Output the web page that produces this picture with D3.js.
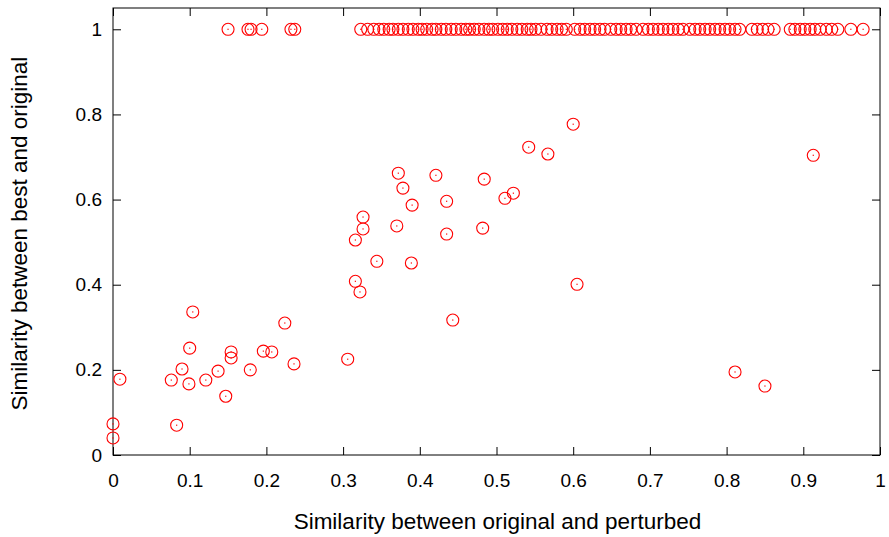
<!DOCTYPE html>
<html>
<head>
<meta charset="utf-8">
<script src="https://cdn.jsdelivr.net/npm/d3@7"></script>
<style>
  body { margin: 0; background: #fff; }
  text { font-family: "Liberation Sans", Arial, Helvetica, sans-serif; }
  .axis line { stroke: #000; stroke-width: 1px; }
  .axis .domain { display: none; }
  .axis text { font-size: 19px; fill: #000; }
</style>
</head>
<body>
<script>
// points that land on the top line (best == original)
var topX = [0.150, 0.176, 0.180, 0.194, 0.232, 0.237, 0.323, 0.332, 0.340,
    0.347, 0.353, 0.360, 0.365, 0.372, 0.378, 0.385, 0.391, 0.398, 0.403,
    0.409, 0.416, 0.421, 0.428, 0.434, 0.441, 0.447, 0.454, 0.460, 0.465,
    0.471, 0.477, 0.484, 0.490, 0.495, 0.502, 0.508, 0.514, 0.520, 0.527,
    0.533, 0.540, 0.545, 0.551, 0.558, 0.566, 0.572, 0.579, 0.585, 0.591,
    0.602, 0.609, 0.615, 0.622, 0.628, 0.635, 0.641, 0.649, 0.656, 0.662,
    0.669, 0.675, 0.682, 0.691, 0.698, 0.704, 0.711, 0.717, 0.724, 0.730,
    0.737, 0.743, 0.752, 0.759, 0.765, 0.772, 0.778, 0.785, 0.791, 0.798,
    0.804, 0.811, 0.817, 0.833, 0.840, 0.847, 0.854, 0.862, 0.883, 0.889,
    0.896, 0.902, 0.909, 0.915, 0.922, 0.930, 0.937, 0.945, 0.962, 0.978];

// the scattered points below 1
var scatX = [0.000, 0.000, 0.009, 0.076, 0.083, 0.090, 0.099, 0.100, 0.104,
    0.121, 0.137, 0.147, 0.154, 0.154, 0.179, 0.196, 0.207, 0.224, 0.236,
    0.306, 0.316, 0.316, 0.322, 0.326, 0.326, 0.344, 0.370, 0.372, 0.378,
    0.389, 0.390, 0.421, 0.435, 0.435, 0.443, 0.482, 0.484, 0.511, 0.522,
    0.542, 0.567, 0.600, 0.605, 0.811, 0.850, 0.913];
var scatY = [0.073, 0.040, 0.178, 0.176, 0.070, 0.202, 0.167, 0.251, 0.336,
    0.176, 0.197, 0.138, 0.242, 0.228, 0.200, 0.244, 0.242, 0.310, 0.214,
    0.225, 0.505, 0.408, 0.383, 0.559, 0.531, 0.455, 0.538, 0.662, 0.627,
    0.451, 0.587, 0.657, 0.596, 0.519, 0.317, 0.533, 0.648, 0.603, 0.615,
    0.723, 0.707, 0.777, 0.401, 0.195, 0.162, 0.704];

var xTicks = [0, 0.1, 0.2, 0.3, 0.4, 0.5, 0.6, 0.7, 0.8, 0.9, 1];
var yTicks = [0, 0.2, 0.4, 0.6, 0.8, 1];
var xTitle = "Similarity between original and perturbed";
var yTitle = "Similarity between best and original";

var margin = {top: 8, right: 9, bottom: 82, left: 113},
    width = 889 - margin.left - margin.right,
    height = 537 - margin.top - margin.bottom;

var svg = d3.select("body").append("svg")
    .attr("width", 889)
    .attr("height", 537)
    .append("g")
    .attr("transform", "translate(" + margin.left + "," + margin.top + ")");

var x = d3.scaleLinear().domain([0, 1]).range([0, width]);
var y = d3.scaleLinear().domain([0, 1.05]).range([height, 0]);

// format like gnuplot: 0, 0.1 ... 1
var fmt = function(d){ return d3.format("~g")(d); };

// axes, ticks pointing inwards
svg.append("g")
    .attr("class", "axis")
    .attr("transform", "translate(0," + height + ")")
    .call(d3.axisBottom(x).tickValues(xTicks).tickSize(-8)
        .tickPadding(19).tickFormat(fmt));

svg.append("g")
    .attr("class", "axis")
    .call(d3.axisLeft(y).tickValues(yTicks).tickSize(-8)
        .tickPadding(11).tickFormat(fmt));

// mirrored ticks on top and right
svg.append("g")
    .attr("class", "axis")
    .call(d3.axisTop(x).tickValues(xTicks).tickSize(-8).tickFormat(""));

svg.append("g")
    .attr("class", "axis")
    .attr("transform", "translate(" + width + ",0)")
    .call(d3.axisRight(y).tickValues(yTicks).tickSize(-8).tickFormat(""));

// frame
svg.append("rect")
    .attr("width", width)
    .attr("height", height)
    .style("fill", "none")
    .style("stroke", "#000")
    .style("stroke-width", "1px");

// axis titles
svg.append("text")
    .text(xTitle)
    .attr("x", x(0.5) + 1)
    .attr("y", height + 74)
    .attr("text-anchor", "middle")
    .style("font-size", "22.5px");

svg.append("text")
    .text(yTitle)
    .attr("transform", "translate(" + (-86) + "," + y(0.52) + ") rotate(-90)")
    .attr("text-anchor", "middle")
    .style("font-size", "22.5px");

// all points: circle with a dot in the middle
var pts = topX.map(function(d){ return [d, 1]; })
    .concat(scatX.map(function(d, i){ return [d, scatY[i]]; }));

var marks = svg.selectAll(".pt")
    .data(pts)
    .enter()
    .append("g")
    .attr("class", "pt")
    .attr("transform", function(d){
        return "translate(" + x(d[0]) + "," + y(d[1]) + ")";
    });

marks.append("circle")
    .attr("r", 6)
    .style("fill", "none")
    .style("stroke", "#ff0000")
    .style("stroke-width", "1.1px");

marks.append("rect")
    .attr("x", -0.6)
    .attr("y", -0.6)
    .attr("width", 1.2)
    .attr("height", 1.2)
    .style("fill", "#ff0000");
</script>
</body>
</html>
